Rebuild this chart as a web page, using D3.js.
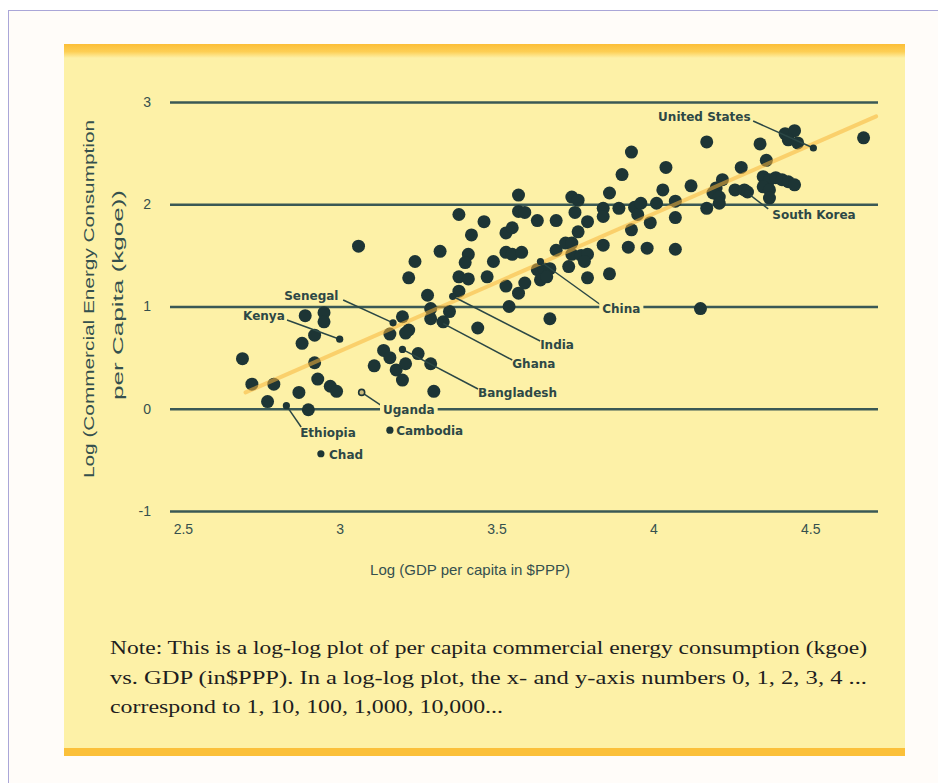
<!DOCTYPE html>
<html>
<head>
<meta charset="utf-8">
<script src="https://cdn.jsdelivr.net/npm/d3@7"></script>
<style>
  body { margin: 0; background: #fff; }
  svg { display: block; }
</style>
</head>
<body>
<div id="chart"></div>
<script>
// values, both axes in log10 units
var gdpLog = [2.89, 2.95, 2.95, 2.92, 2.88, 2.69, 2.92, 2.72, 2.93, 2.97, 2.99, 2.87, 2.77, 2.90, 2.79,
  3.20, 3.22, 3.21, 3.16, 3.14, 3.16, 3.11, 3.18, 3.21, 3.25, 3.29, 3.20, 3.30,
  3.28, 3.29, 3.29, 3.33, 3.35, 3.38, 3.22, 3.44, 3.06,
  3.38, 3.46, 3.42, 3.53, 3.32, 3.41, 3.40, 3.49, 3.24, 3.53, 3.38, 3.41, 3.47, 3.53, 3.54,
  3.57, 3.74, 3.76, 3.86, 4.03, 3.90, 3.57, 3.59, 3.63, 3.69, 3.75, 3.79, 3.84, 3.84, 3.89,
  3.94, 3.95, 3.96, 4.01, 4.07, 4.07, 3.99, 3.55, 3.76, 3.93, 3.84, 3.92, 3.98, 4.07,
  3.55, 3.58, 3.69, 3.72, 3.74, 3.74, 3.77, 3.79, 3.78, 3.73, 3.63, 3.65, 3.67, 3.64, 3.66,
  3.59, 3.57, 3.79, 3.86, 3.67,
  3.93, 4.04, 4.12, 4.17, 4.34, 4.67, 4.28, 4.36, 4.22, 4.20, 4.19, 4.21, 4.21, 4.26, 4.29,
  4.30, 4.35, 4.37, 4.39, 4.41, 4.43, 4.45, 4.35, 4.37, 4.37, 4.17, 4.15,
  4.42, 4.45, 4.43, 4.46];
var energyLog = [0.91, 0.94, 0.85, 0.72, 0.64, 0.49, 0.45, 0.24, 0.29, 0.22, 0.17, 0.16, 0.07, -0.01, 0.24,
  0.90, 0.77, 0.74, 0.73, 0.57, 0.50, 0.42, 0.38, 0.44, 0.54, 0.44, 0.28, 0.17,
  1.11, 0.98, 0.88, 0.85, 0.95, 1.15, 1.28, 0.79, 1.59,
  1.90, 1.83, 1.70, 1.72, 1.54, 1.51, 1.43, 1.44, 1.44, 1.53, 1.29, 1.27, 1.29, 1.20, 1.00,
  2.09, 2.07, 2.04, 2.11, 2.14, 2.29, 1.93, 1.92, 1.84, 1.84, 1.92, 1.83, 1.96, 1.88, 1.96,
  1.97, 1.90, 2.01, 2.01, 2.03, 1.87, 1.82, 1.77, 1.73, 1.75, 1.60, 1.58, 1.57, 1.56,
  1.51, 1.53, 1.55, 1.62, 1.62, 1.51, 1.50, 1.51, 1.44, 1.39, 1.36, 1.37, 1.37, 1.26, 1.29,
  1.23, 1.13, 1.28, 1.32, 0.88,
  2.51, 2.36, 2.18, 2.61, 2.59, 2.65, 2.36, 2.43, 2.24, 2.16, 2.11, 2.07, 2.01, 2.14, 2.14,
  2.12, 2.27, 2.24, 2.26, 2.24, 2.22, 2.19, 2.17, 2.14, 2.06, 1.96, 0.98,
  2.69, 2.72, 2.63, 2.60];

// labelled countries: point, label position and leader start (same log units)
var countryNames = ["United States", "South Korea", "China", "India", "Ghana", "Bangladesh",
  "Senegal", "Kenya", "Ethiopia", "Chad", "Uganda", "Cambodia"];
var countryGdp    = [4.51, 4.30, 3.64, 3.36, 3.32, 3.20, 3.17, 3.00, 2.83, 2.94, 3.07, 3.16];
var countryEnergy = [2.55, 2.11, 1.44, 1.10, 0.85, 0.58, 0.84, 0.68, 0.03, -0.44, 0.16, -0.21];
var labelGdp      = [4.015, 4.379, 3.837, 3.639, 3.550, 3.441, 2.823, 2.692, 2.874, 2.966, 3.138, 3.180];
var labelEnergy   = [2.853, 1.895, 0.976, 0.623, 0.438, 0.154, 1.103, 0.907, -0.237, -0.452, -0.012, -0.218];
var leaderGdp     = [4.318, 4.366, 3.837, 3.639, 3.550, 3.441, 3.011, 2.832, 2.877, null, 3.145, null];
var leaderEnergy  = [2.814, 1.954, 1.005, 0.663, 0.477, 0.193, 1.064, 0.868, -0.178, null, 0.007, null];
var boxedLabels = ["China", "Uganda"];

// fitted line as drawn (two end points)
var trendGdp = [2.70, 4.71];
var trendEnergy = [0.16, 2.86];

var yTicks = [-1, 0, 1, 2, 3];
var yTickLabels = ["-1", "0", "1", "2", "3"];
var xTicks = [2.5, 3, 3.5, 4, 4.5];
var xTickLabels = ["2.5", "3", "3.5", "4", "4.5"];

var noteLines = [
  "Note: This is a  log-log plot of per capita commercial energy consumption (kgoe)",
  "vs. GDP (in$PPP).  In a log-log plot, the x- and y-axis numbers 0, 1, 2, 3, 4 ...",
  "correspond to 1, 10, 100, 1,000, 10,000..."
];

var W = 938, H = 783;
var ink = "#1d3535", textCol = "#35504e", panel = "#fdf1a7";

var svg = d3.select("#chart").append("svg")
  .attr("width", W).attr("height", H);

// page and frame
svg.append("rect").attr("width", W).attr("height", H).attr("fill", "#fff");
svg.append("rect").attr("x", 9).attr("y", 11).attr("width", W - 9).attr("height", H - 11).attr("fill", "#fffcf9");
svg.append("line").attr("x1", 8.5).attr("x2", 8.5).attr("y1", 10).attr("y2", H)
  .attr("stroke", "#aaa6d8").attr("stroke-width", 1);
svg.append("line").attr("x1", 8).attr("x2", W).attr("y1", 10.5).attr("y2", 10.5)
  .attr("stroke", "#aaa6d8").attr("stroke-width", 1);

var defs = svg.append("defs");
var grad = defs.append("linearGradient").attr("id", "topband")
  .attr("x1", 0).attr("y1", 0).attr("x2", 0).attr("y2", 1);
grad.append("stop").attr("offset", "0%").attr("stop-color", "#fcbe37");
grad.append("stop").attr("offset", "55%").attr("stop-color", "#fdcf55");
grad.append("stop").attr("offset", "100%").attr("stop-color", panel);

svg.append("rect").attr("x", 64).attr("y", 44).attr("width", 841).attr("height", 712).attr("fill", panel);
svg.append("rect").attr("x", 64).attr("y", 44).attr("width", 841).attr("height", 14).attr("fill", "url(#topband)");
svg.append("rect").attr("x", 64).attr("y", 748).attr("width", 841).attr("height", 8).attr("fill", "#fbc03a");

// scales
var x = d3.scaleLinear().domain([2.459, 4.716]).range([170, 878]);
var y = d3.scaleLinear().domain([-1, 3]).range([511, 102]);

// y axis with gridlines
var yAxis = svg.append("g")
  .attr("transform", "translate(170,0)")
  .call(d3.axisLeft(y).tickValues(yTicks).tickSize(-(878 - 170)).tickPadding(19)
    .tickFormat(function(d, i) { return yTickLabels[i]; }));
yAxis.select(".domain").remove();
yAxis.selectAll(".tick line")
  .attr("stroke", "#3a5955").attr("stroke-width", 2.4);
yAxis.selectAll(".tick text")
  .attr("fill", textCol).style("font", "14px 'Liberation Sans', Arial, sans-serif");

// x axis labels
var xAxis = svg.append("g")
  .attr("transform", "translate(0,511)")
  .call(d3.axisBottom(x).tickValues(xTicks).tickSize(0).tickPadding(13)
    .tickFormat(function(d, i) { return xTickLabels[i]; }));
xAxis.select(".domain").remove();
xAxis.selectAll(".tick text")
  .attr("fill", textCol).style("font", "14px 'Liberation Sans', Arial, sans-serif");

// axis titles
svg.append("text")
  .attr("x", 470).attr("y", 575)
  .attr("text-anchor", "middle")
  .attr("fill", textCol)
  .style("font", "15px 'Liberation Sans', Arial, sans-serif")
  .text("Log (GDP per capita in $PPP)");

var yTitle = svg.append("g").attr("fill", textCol)
  .style("font", "14px 'Liberation Sans', Arial, sans-serif");
yTitle.append("text")
  .attr("transform", "translate(94,299) rotate(-90)")
  .attr("text-anchor", "middle")
  .attr("textLength", 358).attr("lengthAdjust", "spacingAndGlyphs")
  .text("Log (Commercial Energy Consumption");
yTitle.append("text")
  .attr("transform", "translate(123,295) rotate(-90)")
  .attr("text-anchor", "middle")
  .attr("textLength", 210).attr("lengthAdjust", "spacingAndGlyphs")
  .text("per Capita (kgoe))");

// points
var pts = gdpLog.map(function(g, i) { return {g: g, e: energyLog[i]}; });
svg.append("g").selectAll("circle")
  .data(pts)
  .enter()
  .append("circle")
    .attr("cx", function(d) { return x(d.g); })
    .attr("cy", function(d) { return y(d.e); })
    .attr("r", 6.5)
    .attr("fill", ink);

// trend line
svg.append("line")
  .attr("x1", x(trendGdp[0])).attr("y1", y(trendEnergy[0]))
  .attr("x2", x(trendGdp[1])).attr("y2", y(trendEnergy[1]))
  .attr("stroke", "#f8b43a").attr("stroke-width", 4)
  .attr("stroke-opacity", 0.55).attr("stroke-linecap", "round");

// labelled countries
var countries = countryNames.map(function(n, i) {
  return {name: n, g: countryGdp[i], e: countryEnergy[i],
    lg: labelGdp[i], le: labelEnergy[i], sg: leaderGdp[i], se: leaderEnergy[i]};
});

var ann = svg.append("g");
ann.selectAll("line")
  .data(countries.filter(function(d) { return d.sg !== null; }))
  .enter()
  .append("line")
    .attr("x1", function(d) { return x(d.sg); })
    .attr("y1", function(d) { return y(d.se); })
    .attr("x2", function(d) { return x(d.g); })
    .attr("y2", function(d) { return y(d.e); })
    .attr("stroke", "#2b4745").attr("stroke-width", 1.5);

ann.selectAll("circle")
  .data(countries)
  .enter()
  .append("circle")
    .attr("cx", function(d) { return x(d.g); })
    .attr("cy", function(d) { return y(d.e); })
    .attr("r", function(d) { return d.name === "Uganda" ? 3 : 3.6; })
    .attr("fill", function(d) { return d.name === "Uganda" ? "#c9b979" : ink; })
    .attr("stroke", ink)
    .attr("stroke-width", function(d) { return d.name === "Uganda" ? 1.6 : 0; });

var labels = ann.selectAll("g.lab")
  .data(countries)
  .enter()
  .append("g").attr("class", "lab");

labels.append("text")
  .attr("x", function(d) { return x(d.lg); })
  .attr("y", function(d) { return y(d.le); })
  .attr("dy", "0.35em")
  .attr("fill", "#2d4846")
  .style("font", "bold 12px 'DejaVu Sans', Verdana, sans-serif")
  .text(function(d) { return d.name; });

// labels that sit on a gridline get a patch of background
labels.filter(function(d) { return boxedLabels.indexOf(d.name) >= 0; })
  .each(function() {
    var t = d3.select(this).select("text");
    var b = t.node().getBBox();
    d3.select(this).insert("rect", "text")
      .attr("x", b.x - 3).attr("y", b.y)
      .attr("width", b.width + 6).attr("height", b.height)
      .attr("fill", panel);
  });

// note below the chart
svg.append("g").selectAll("text")
  .data(noteLines)
  .enter()
  .append("text")
    .attr("x", 110)
    .attr("y", function(d, i) { return 654 + i * 29.5; })
    .attr("fill", "#1e1e1e")
    .attr("textLength", function(d, i) { return [757, 757, 393][i]; })
    .attr("lengthAdjust", "spacingAndGlyphs")
    .style("font", "19px 'Liberation Serif', 'Times New Roman', serif")
    .text(function(d) { return d; });
</script>
</body>
</html>
